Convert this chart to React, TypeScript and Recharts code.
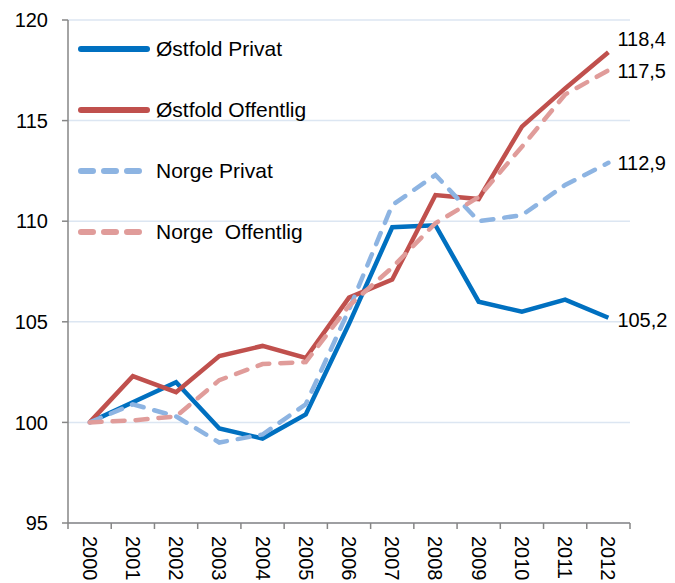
import { LineChart, Line, XAxis, YAxis, CartesianGrid, Legend, LabelList } from 'recharts'

const years = ['2000', '2001', '2002', '2003', '2004', '2005', '2006', '2007', '2008', '2009', '2010', '2011', '2012']
const seriesNames = ['Østfold Privat', 'Østfold Offentlig', 'Norge Privat', 'Norge  Offentlig']
const ostfoldPrivat = [100, 101.0, 102.0, 99.7, 99.2, 100.4, 104.9, 109.7, 109.8, 106.0, 105.5, 106.1, 105.2]
const ostfoldOffentlig = [100, 102.3, 101.5, 103.3, 103.8, 103.2, 106.2, 107.1, 111.3, 111.1, 114.7, 116.6, 118.4]
const norgePrivat = [100, 100.9, 100.3, 99.0, 99.4, 100.9, 105.6, 110.8, 112.3, 110.0, 110.3, 111.8, 112.9]
const norgeOffentlig = [100, 100.1, 100.3, 102.1, 102.9, 103.0, 105.8, 107.7, 109.9, 111.2, 113.7, 116.3, 117.5]
const yTicks = [95, 100, 105, 110, 115, 120]

const data = years.map((year, i) => ({
  x: i,
  year,
  ostfoldPrivat: ostfoldPrivat[i],
  ostfoldOffentlig: ostfoldOffentlig[i],
  norgePrivat: norgePrivat[i],
  norgeOffentlig: norgeOffentlig[i],
}))

// integer ticks carry the year label, half ticks carry the tick marks between categories
const xTicks: number[] = []
for (let i = -0.5; i <= years.length - 0.5; i += 0.5) xTicks.push(i)

const FONT = '"Liberation Sans", Arial, sans-serif'

function YearTick({ x, y, payload }: any) {
  const v = payload.value
  if (Number.isInteger(v)) {
    return (
      <text x={x} y={y + 13} transform={`rotate(90 ${x} ${y + 13})`} dominantBaseline="central" fontSize={20} fill="#000" fontFamily={FONT}>
        {years[v]}
      </text>
    )
  }
  return <line x1={x} x2={x} y1={y} y2={y + 6} stroke="#868686" strokeWidth={1.5} />
}

function endLabel(dy: number) {
  return (props: any) => {
    const { x, y, index, value } = props
    if (index !== years.length - 1) return null
    return (
      <text x={x + 9} y={y + dy} dominantBaseline="central" fontSize={20} fill="#000" fontFamily={FONT}>
        {String(value).replace('.', ',')}
      </text>
    )
  }
}

// absolutely placed so the legend takes no room from the plot
function LegendBox({ payload }: any) {
  const items = [...payload].sort((a: any, b: any) => seriesNames.indexOf(a.value) - seriesNames.indexOf(b.value))
  return (
    <div style={{ position: 'absolute', left: 74, top: 18 }}>
      {items.map((p: any) => {
        const dashed = !!p.payload.strokeDasharray
        return (
          <div key={p.value} style={{ display: 'flex', alignItems: 'center', height: 61 }}>
            <svg width={82} height={10}>
              <line x1={7} x2={dashed ? 65 : 73} y1={5} y2={5} stroke={p.color} strokeWidth={6} strokeLinecap="round"
                strokeDasharray={dashed ? '12 11' : undefined} />
            </svg>
            <span style={{ fontSize: 21, fontFamily: FONT, color: '#000', whiteSpace: 'pre' }}>{p.value}</span>
          </div>
        )
      })}
    </div>
  )
}

export default function App() {
  return (
    <div style={{ position: 'absolute', left: 0, top: 0, width: 675, height: 583, background: '#fff' }}>
      <LineChart width={675} height={583} data={data} margin={{ top: 20, right: 45, bottom: 0, left: 0 }}>
        <CartesianGrid vertical={false} stroke="#dce6f2" strokeWidth={1.5} />
        <XAxis dataKey="x" type="number" domain={[-0.5, years.length - 0.5]} ticks={xTicks} interval={0}
          tick={<YearTick />} tickLine={false} tickSize={0} tickMargin={0} height={60}
          axisLine={{ stroke: '#868686', strokeWidth: 1.5 }} />
        <YAxis domain={[95, 120]} ticks={yTicks} width={68} tickSize={6} tickMargin={14}
          tick={{ fontSize: 20, fill: '#000', fontFamily: FONT }}
          tickLine={{ stroke: '#868686', strokeWidth: 1.5 }} axisLine={{ stroke: '#868686', strokeWidth: 1.5 }} />
        <Legend content={<LegendBox />} wrapperStyle={{ top: 0, left: 0, bottom: 'auto', width: 0, height: 0 }} />
        <Line dataKey="ostfoldPrivat" name={seriesNames[0]} stroke="#0070c0" strokeWidth={4.5} dot={false} isAnimationActive={false}>
          <LabelList dataKey="ostfoldPrivat" content={endLabel(2)} />
        </Line>
        <Line dataKey="ostfoldOffentlig" name={seriesNames[1]} stroke="#c0504d" strokeWidth={4.5} dot={false} isAnimationActive={false}>
          <LabelList dataKey="ostfoldOffentlig" content={endLabel(-13)} />
        </Line>
        <Line dataKey="norgePrivat" name={seriesNames[2]} stroke="#8db4e2" strokeWidth={4.5} strokeDasharray="12 11" strokeLinecap="round" dot={false} isAnimationActive={false}>
          <LabelList dataKey="norgePrivat" content={endLabel(0)} />
        </Line>
        <Line dataKey="norgeOffentlig" name={seriesNames[3]} stroke="#e09c9a" strokeWidth={4.5} strokeDasharray="12 11" strokeLinecap="round" dot={false} isAnimationActive={false}>
          <LabelList dataKey="norgeOffentlig" content={endLabel(1)} />
        </Line>
      </LineChart>
    </div>
  )
}
